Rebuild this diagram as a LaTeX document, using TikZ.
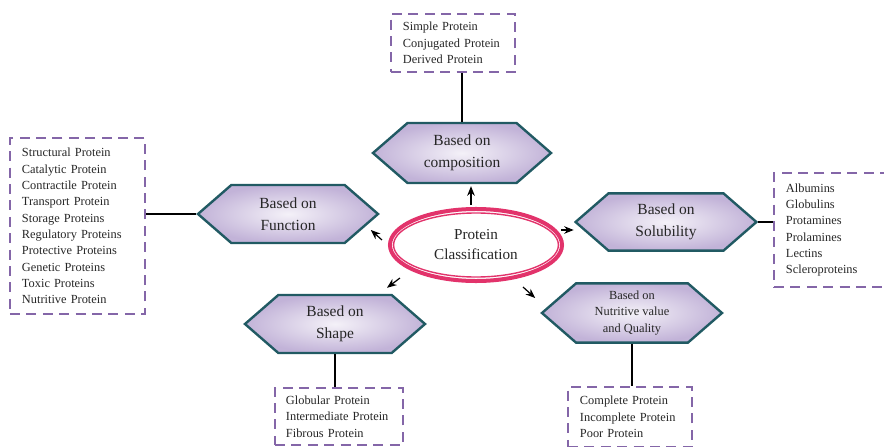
\documentclass[tikz,border=0pt]{standalone}
\usepackage{fontspec}
\setmainfont{Liberation Serif}
\usepackage{tikz}
\usetikzlibrary{shapes.geometric}
\usetikzlibrary{shapes.symbols}
\usetikzlibrary{arrows.meta}
\definecolor{hexborder}{HTML}{215A63}
\definecolor{hexfill}{HTML}{C2B3D8}
\definecolor{hexlight}{HTML}{F4F1F8}
\definecolor{listdash}{HTML}{8466A8}
\definecolor{rootpink}{HTML}{E2336B}
\tikzstyle{class_hex}=[shape=signal, signal to=west and east, signal pointer angle=82, draw=hexborder, line width=0.06cm, shade, inner color=hexlight, outer color=hexfill, align=center, inner sep=0pt, text=black!85, font=\fontsize{11}{15.6}\selectfont]
\tikzstyle{class_list}=[draw=listdash, line width=0.06cm, dash pattern=on 0.25cm off 0.16cm, align=left, inner xsep=0.3cm, inner ysep=0pt, text=black!85, font=\fontsize{8.8}{11.6}\selectfont]
\tikzstyle{root_arrow}=[line width=0.03cm, -{Stealth[length=0.24cm,width=0.19cm]}]
\tikzstyle{list_link}=[line width=0.04cm]

\begin{document}
\begin{tikzpicture}[x=0.025cm, y=-0.025cm]
          \useasboundingbox (0,0) rectangle (884,447);
          \node[ellipse, draw=rootpink, line width=0.1cm, minimum width=4.3cm, minimum height=1.8cm, inner sep=0pt, align=center, text=black!85, font=\fontsize{10.8}{14.2}\selectfont] (root) at (476,245){Protein\\Classification};
          \draw[rootpink, line width=0.035cm] (root.center) ellipse [x radius=2.06cm, y radius=0.8cm];
          \node[class_hex, minimum width=4.45cm, minimum height=1.5cm] (comp) at (462,153){Based on\\composition};
          \node[class_hex, minimum width=4.5cm, minimum height=1.45cm] (func) at (288,214){Based on\\Function};
          \node[class_hex, minimum width=4.52cm, minimum height=1.43cm] (sol) at (666,222){Based on\\Solubility};
          \node[class_hex, minimum width=4.5cm, minimum height=1.45cm] (shape) at (335,324){Based on\\Shape};
          \node[class_hex, minimum width=4.5cm, minimum height=1.48cm, font=\fontsize{8.8}{11.7}\selectfont] (nutr) at (632,313){Based on\\Nutritive value\\and Quality};
          \node[class_list, text width=2.5cm, minimum height=1.45cm] (complist) at (453,43){Simple Protein\\Conjugated Protein\\Derived Protein};
          \node[class_list, text width=2.775cm, minimum height=4.4cm] (funclist) at (77.5,226){Structural Protein\\Catalytic Protein\\Contractile Protein\\Transport Protein\\Storage Proteins\\Regulatory Proteins\\Protective Proteins\\Genetic Proteins\\Toxic Proteins\\Nutritive Protein};
          \node[class_list, text width=2.5cm, minimum height=2.85cm] (sollist) at (836,230){Albumins\\Globulins\\Protamines\\Prolamines\\Lectins\\Scleroproteins};
          \node[class_list, inner xsep=0.275cm, text width=2.65cm, minimum height=1.425cm] (shapelist) at (339,416.5){Globular Protein\\Intermediate Protein\\Fibrous Protein};
          \node[class_list, text width=2.5cm, minimum height=1.5cm] (nutrlist) at (630,417){Complete Protein\\Incomplete Protein\\Poor Protein};
          \draw[list_link] (comp.north) -- (comp.north |- complist.south);
          \draw[list_link] (func.west) -- (func.west -| funclist.east);
          \draw[list_link] (sol.east) -- (sol.east -| sollist.west);
          \draw[list_link] (shape.south) -- (shape.south |- shapelist.north);
          \draw[list_link] (nutr.south) -- (nutr.south |- nutrlist.north);
          \draw[root_arrow] ([shift={(-5,-2)}]root.north) -- ([shift={(9,2)}]comp.south);
          \draw[root_arrow] ([shift={(-6,-5)}]root.west) -- ([shift={(-9,16)}]func.east);
          \draw[root_arrow] ([shift={(-3,-15)}]root.east) -- ([shift={(0,8)}]sol.west);
          \draw[root_arrow] ([shift={(12,33)}]root.west) -- ([shift={(52,-6)}]shape.north);
          \draw[root_arrow] ([shift={(47,4)}]root.south) -- ([shift={(-5,-15)}]nutr.west);
        \end{tikzpicture}
\end{document}
